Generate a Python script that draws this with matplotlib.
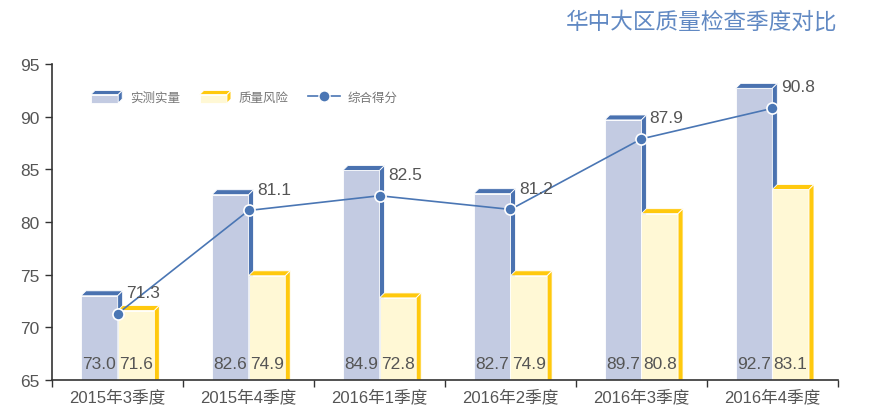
import numpy as np
import matplotlib
matplotlib.use("Agg")
import matplotlib.pyplot as plt
from matplotlib.patches import Polygon, Rectangle
from matplotlib.lines import Line2D
from matplotlib.legend_handler import HandlerBase

plt.rcParams['font.family'] = ['Liberation Sans', 'Noto Sans CJK SC', 'DejaVu Sans']

"""
Data:
"""
quarters = ['2015年3季度', '2015年4季度', '2016年1季度', '2016年2季度', '2016年3季度', '2016年4季度']
measured = [73.0, 82.6, 84.9, 82.7, 89.7, 92.7]
risk = [71.6, 74.9, 72.8, 74.9, 80.8, 83.1]
score = [71.3, 81.1, 82.5, 81.2, 87.9, 90.8]

title = '华中大区质量检查季度对比'
names = ['实测实量', '质量风险', '综合得分']

blue_front = '#c3cbe2'
blue_dark = '#4a72b0'
yel_front = '#fff8d5'
yel_dark = '#ffc90e'
line_col = '#4a76b4'
txt = '#555555'

base = 65
w = 0.28
dx = 0.038
dy = 0.47


class Box3D(HandlerBase):
    def __init__(self, front, dark):
        super().__init__()
        self.front = front
        self.dark = dark

    def create_artists(self, legend, orig_handle, xdescent, ydescent, width, height, fontsize, trans):
        x0, y0 = -xdescent, -ydescent
        d = height * 0.32
        front = Rectangle((x0, y0), width - d, height - d, facecolor=self.front, edgecolor='white', lw=0.6, transform=trans)
        top = Polygon([(x0, y0 + height - d), (x0 + d, y0 + height), (x0 + width, y0 + height), (x0 + width - d, y0 + height - d)],
                      closed=True, facecolor=self.dark, edgecolor='white', lw=0.6, transform=trans)
        side = Polygon([(x0 + width - d, y0), (x0 + width, y0 + d), (x0 + width, y0 + height), (x0 + width - d, y0 + height - d)],
                       closed=True, facecolor=self.dark, edgecolor='white', lw=0.6, transform=trans)
        return [front, top, side]


def bars3d(ax, xs, hs, front, dark):
    rects = ax.bar(xs, [h - base for h in hs], width=w, bottom=base, align='edge',
                   color=front, edgecolor='white', linewidth=0.6, zorder=2)
    for r in rects:
        x0 = r.get_x()
        x1 = x0 + r.get_width()
        h = r.get_y() + r.get_height()
        ax.add_patch(Polygon([(x0, h), (x0 + dx, h + dy), (x1 + dx, h + dy), (x1, h)],
                             closed=True, facecolor=dark, edgecolor='white', lw=0.6, zorder=2))
        ax.add_patch(Polygon([(x1, base), (x1, h), (x1 + dx, h + dy), (x1 + dx, base)],
                             closed=True, facecolor=dark, edgecolor='white', lw=0.6, zorder=2))
    return rects


fig = plt.figure(figsize=(8.7, 4.14), dpi=100)
ax = fig.add_axes([0.06, 0.0797, 0.903, 0.763])

x = np.arange(len(quarters))

b1 = bars3d(ax, x - w, measured, blue_front, blue_dark)
b2 = bars3d(ax, x, risk, yel_front, yel_dark)

for i in range(len(x)):
    ax.text(x[i] - w / 2, base + 1.6, f"{measured[i]:.1f}", ha='center', va='center', fontsize=12.5, color=txt, zorder=3)
    ax.text(x[i] + w / 2, base + 1.6, f"{risk[i]:.1f}", ha='center', va='center', fontsize=12.5, color=txt, zorder=3)

ax.plot(x, score, color=line_col, lw=1.2, marker='o', markersize=8, markerfacecolor=line_col,
        markeredgecolor='white', markeredgewidth=1.2, zorder=4)
for i in range(len(x)):
    ax.annotate(f"{score[i]:.1f}", (x[i], score[i]), xytext=(6, 10), textcoords='offset points',
                ha='left', va='bottom', fontsize=12.5, color=txt, zorder=5)

ax.set_xlim(-0.5, len(x) - 0.5)
ax.set_ylim(65, 95)
ax.set_yticks(np.arange(65, 96, 5))
ax.set_xticks(x)
ax.set_xticklabels(quarters)
ax.set_xticks(np.arange(-0.5, len(x), 1), minor=True)
ax.tick_params(axis='x', which='major', length=0, labelsize=12, labelcolor=txt, pad=6)
ax.tick_params(axis='x', which='minor', length=5, width=1, color='#333333', direction='out')
ax.tick_params(axis='y', length=5, width=1, color='#333333', labelsize=12.5, labelcolor=txt, pad=4)

for s in ['top', 'right']:
    ax.spines[s].set_visible(False)
for s in ['left', 'bottom']:
    ax.spines[s].set_color('#333333')
    ax.spines[s].set_linewidth(1.2)

handles = [b1, b2, Line2D([], [], color=line_col, lw=1.2, marker='o', markersize=8,
                          markerfacecolor=line_col, markeredgecolor='white')]
leg = ax.legend(handles, names, handler_map={b1: Box3D(blue_front, blue_dark), b2: Box3D(yel_front, yel_dark)},
                loc='center left', bbox_to_anchor=(0.035, 0.895), ncol=3, frameon=False, fontsize=9,
                handlelength=2.5, handleheight=1.15, handletextpad=0.6, columnspacing=1.6)
for t in leg.get_texts():
    t.set_color('#777777')

fig.text(0.963, 0.947, title, ha='right', va='center', fontsize=16.3, color='#6189c3')

plt.savefig("out.png", dpi=100)
